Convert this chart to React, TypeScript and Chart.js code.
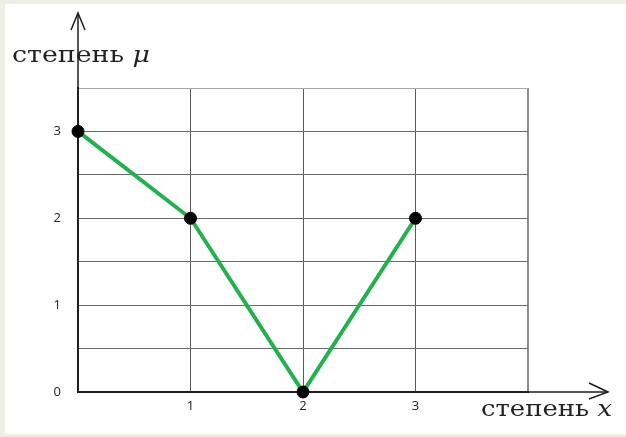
import React, { useEffect, useRef } from "react";
import { Chart, registerables } from "chart.js";

Chart.register(...registerables);

const xValues: number[] = [0, 1, 2, 3];
const muValues: number[] = [3, 2, 0, 2];
const xTickLabels: number[] = [1, 2, 3];
const yTickLabels: number[] = [0, 1, 2, 3];
const yAxisLabel = "степень ";
const yAxisSymbol = "μ";
const xAxisLabel = "степень ";
const xAxisSymbol = "x";

const W = 626;
const H = 437;

function drawLabel(
  ctx: CanvasRenderingContext2D,
  word: string,
  sym: string,
  x: number,
  baseline: number,
  targetWidth: number
) {
  ctx.save();
  const f1 = "22px 'DejaVu Serif'";
  const f2 = "italic 22px 'DejaVu Serif'";
  ctx.font = f1;
  const w1 = ctx.measureText(word).width;
  ctx.font = f2;
  const w2 = ctx.measureText(sym).width;
  const s = targetWidth / (w1 + w2);
  ctx.translate(x, baseline);
  ctx.scale(s, 1);
  ctx.fillStyle = "#222222";
  ctx.textBaseline = "alphabetic";
  ctx.font = f1;
  ctx.fillText(word, 0, 0);
  ctx.font = f2;
  ctx.fillText(sym, w1, 0);
  ctx.restore();
}

const framePlugin = {
  id: "frame",
  beforeDraw(chart: any) {
    const ctx = chart.ctx as CanvasRenderingContext2D;
    ctx.save();
    ctx.fillStyle = "#ffffff";
    ctx.fillRect(0, 0, W, H);
    ctx.fillStyle = "#efeee4";
    ctx.fillRect(0, 0, W, 4);
    ctx.fillRect(0, 0, 5, H);
    ctx.fillRect(0, H - 3, W, 3);
    ctx.restore();
  },
  afterDraw(chart: any) {
    const ctx = chart.ctx as CanvasRenderingContext2D;
    const xs = chart.scales.x;
    const ys = chart.scales.y;
    const x0 = xs.getPixelForValue(0);
    const y0 = ys.getPixelForValue(0);
    const area = chart.chartArea;
    ctx.save();
    ctx.strokeStyle = "#1e1e1e";
    ctx.lineWidth = 1.5;
    ctx.beginPath();
    ctx.moveTo(x0, area.top);
    ctx.lineTo(x0, 13);
    ctx.stroke();
    ctx.beginPath();
    ctx.moveTo(x0 - 7, 30);
    ctx.lineTo(x0, 13);
    ctx.lineTo(x0 + 7, 30);
    ctx.stroke();
    ctx.beginPath();
    ctx.moveTo(area.right, y0);
    ctx.lineTo(608, y0);
    ctx.stroke();
    ctx.beginPath();
    ctx.moveTo(589, y0 - 9);
    ctx.lineTo(608, y0);
    ctx.lineTo(589, y0 + 7);
    ctx.stroke();
    ctx.restore();
    drawLabel(ctx, yAxisLabel, yAxisSymbol, 12, 62, 138);
    drawLabel(ctx, xAxisLabel, xAxisSymbol, 481, 416, 131);
  },
};

export default function App() {
  const ref = useRef<HTMLCanvasElement | null>(null);
  useEffect(() => {
    document.body.style.margin = "0";
    if (!ref.current) return;
    const chart = new Chart(ref.current, {
      type: "line",
      data: {
        datasets: [
          {
            data: xValues.map((x, i) => ({ x, y: muValues[i] })),
            borderColor: "#22b14c",
            borderWidth: 4,
            pointRadius: 6,
            pointBackgroundColor: "#000000",
            pointBorderColor: "#000000",
            pointBorderWidth: 1,
            tension: 0,
            clip: false as any,
          },
        ],
      },
      options: {
        responsive: false,
        animation: false,
        events: [],
        layout: { padding: { left: 0, top: 88, right: W - 528, bottom: 0 } },
        plugins: { legend: { display: false }, tooltip: { enabled: false } },
        scales: {
          x: {
            type: "linear",
            min: 0,
            max: 4,
            afterFit: (s: any) => {
              s.height = H - 392;
            },
            ticks: {
              stepSize: 1,
              padding: 6,
              color: "#222",
              font: { family: "'Open Sans'", size: 13 },
              callback: (v: any) => (xTickLabels.includes(v) ? String(v) : ""),
            },
            grid: {
              drawTicks: false,
              color: (c: any) => (c.tick && c.tick.value === 4 ? "#8a8a8a" : "#5a5a5a"),
              lineWidth: (c: any) => (c.tick && c.tick.value === 4 ? 2 : 1),
            },
            border: { display: true, color: "#1e1e1e", width: 2 },
          },
          y: {
            type: "linear",
            min: 0,
            max: 3.5,
            afterFit: (s: any) => {
              s.width = 78;
            },
            ticks: {
              stepSize: 0.5,
              padding: 17,
              color: "#222",
              font: { family: "'Open Sans'", size: 13 },
              callback: (v: any) => (yTickLabels.includes(v) ? String(v) : ""),
            },
            grid: {
              drawTicks: false,
              color: (c: any) => (c.tick && c.tick.value === 3.5 ? "#a8a8a8" : "#6a6a6a"),
              lineWidth: 1,
            },
            border: { display: true, color: "#1e1e1e", width: 2 },
          },
        },
      },
      plugins: [framePlugin],
    });
    return () => chart.destroy();
  }, []);
  return (
    <div style={{ width: W, height: H }}>
      <canvas ref={ref} width={W} height={H} style={{ display: "block" }} />
    </div>
  );
}
